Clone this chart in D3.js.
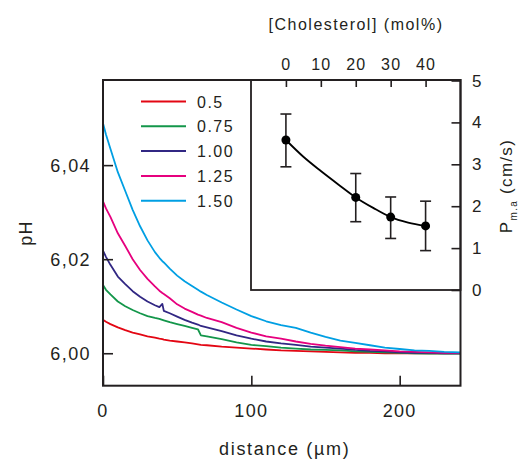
<!DOCTYPE html>
<html>
<head>
<meta charset="utf-8">
<script src="https://cdn.jsdelivr.net/npm/d3@7"></script>
<style>
  body { margin: 0; background: #fff; }
  svg { display: block; font-family: "Liberation Sans", Arial, sans-serif; }
  text { fill: #231f20; }
</style>
</head>
<body>
<svg id="chart" width="519" height="460"></svg>
<script>
// main panel: pH profiles vs distance
var distance = [0, 2, 5, 10, 15, 20, 25, 30, 35, 38, 40, 41, 45, 50, 55, 60, 64, 66, 70, 80, 90, 100,
  110, 120, 130, 140, 150, 160, 170, 180, 190, 200, 210, 220, 230, 241]

var ph050 = [6.0071, 6.0067, 6.0062, 6.0055, 6.0049, 6.0044, 6.0040, 6.0036, 6.0033, 6.0031, 6.0030, 6.0029,
  6.0027, 6.0025, 6.0023, 6.0021, 6.0019, 6.0018, 6.0017, 6.0014, 6.0012, 6.0010,
  6.0008, 6.0006, 6.0005, 6.0004, 6.0003, 6.0002, 6.0001, 6.0001, 6.0000, 6.0000, 6.0000, 6.0000, 6.0000, 6.0000]
var ph075 = [6.0145, 6.0135, 6.0125, 6.0110, 6.0100, 6.0092, 6.0085, 6.0079, 6.0075, 6.0073, 6.0071, 6.0070,
  6.0066, 6.0062, 6.0058, 6.0054, 6.0051, 6.0038, 6.0036, 6.0030, 6.0023, 6.0018,
  6.0015, 6.0012, 6.0010, 6.0008, 6.0007, 6.0006, 6.0004, 6.0003, 6.0002, 6.0001, 6.0000, 5.9999, 5.9999, 5.9999]
var ph100 = [6.0218, 6.0205, 6.0188, 6.0163, 6.0147, 6.0132, 6.0120, 6.0110, 6.0102, 6.0098, 6.0105, 6.0090,
  6.0085, 6.0078, 6.0071, 6.0065, 6.0061, 6.0058, 6.0055, 6.0047, 6.0038, 6.0031,
  6.0025, 6.0021, 6.0018, 6.0014, 6.0012, 6.0010, 6.0007, 6.0005, 6.0004, 6.0002, 6.0001, 6.0001, 6.0000, 6.0000]
var ph125 = [6.0323, 6.0308, 6.0290, 6.0255, 6.0228, 6.0200, 6.0177, 6.0158, 6.0142, 6.0133, 6.0128, 6.0126,
  6.0117, 6.0104, 6.0095, 6.0088, 6.0082, 6.0080, 6.0075, 6.0066, 6.0054, 6.0044,
  6.0036, 6.0031, 6.0025, 6.0020, 6.0016, 6.0013, 6.0010, 6.0008, 6.0006, 6.0004, 6.0003, 6.0002, 6.0001, 6.0001]
var ph150 = [6.0489, 6.0465, 6.0435, 6.0385, 6.0345, 6.0305, 6.0270, 6.0240, 6.0215, 6.0203, 6.0196, 6.0193,
  6.0180, 6.0165, 6.0153, 6.0143, 6.0135, 6.0131, 6.0124, 6.0108, 6.0093, 6.0079,
  6.0068, 6.0060, 6.0054, 6.0044, 6.0035, 6.0027, 6.0022, 6.0017, 6.0012, 6.0009, 6.0006, 6.0005, 6.0003, 6.0002]

var seriesNames = ['0.5', '0.75', '1.00', '1.25', '1.50']
var seriesColors = ['#e30613', '#13964a', '#312783', '#e6007e', '#009fe3']
var seriesValues = [ph050, ph075, ph100, ph125, ph150]

var distTicks = [0, 100, 200]
var phTicks = [6.00, 6.02, 6.04]

// inset: permeability vs cholesterol
var chol = [0, 20, 30, 40]
var perm = [3.58, 2.21, 1.74, 1.53]
var permLow = [2.94, 1.63, 1.23, 0.94]
var permHigh = [4.20, 2.78, 2.22, 2.12]
var cholFit = [0, 5, 10, 15, 20, 25, 30, 35, 40]
var permFit = [3.58, 3.18, 2.84, 2.52, 2.21, 1.96, 1.74, 1.61, 1.53]
var cholTicks = [0, 10, 20, 30, 40]
var permTicks = [0, 1, 2, 3, 4, 5]

var ink = '#231f20'
var svg = d3.select('#chart')

// plot box (not "top"/"left": those clash with window globals)
var mL = 103, mR = 460.5, mT = 80, mB = 385.7

var x = d3.scaleLinear().domain([0, 241]).range([mL, mR])
var y = d3.scaleLinear().domain([5.9931, 6.0581]).range([mB, mT])

var comma = d3.formatLocale({decimal: ',', thousands: '.', grouping: [3], currency: ['', '']})

// curves
var line = d3.line()
  .x(function (d) { return x(d[0]) })
  .y(function (d) { return y(d[1]) })

seriesValues.forEach(function (vals, i) {
  svg.append('path')
    .datum(distance.map(function (d, j) { return [d, vals[j]] }))
    .attr('d', line)
    .style('fill', 'none')
    .style('stroke', seriesColors[i])
    .style('stroke-width', 1.8)
    .style('stroke-linejoin', 'round')
})

// main axes (ticks inward)
svg.append('g')
  .attr('transform', 'translate(0,' + mB + ')')
  .call(d3.axisTop(x).tickValues(distTicks).tickSize(10).tickFormat(''))
  .call(function (g) { g.select('.domain').remove() })
  .selectAll('line').style('stroke', ink).style('stroke-width', 1.6)

svg.append('g')
  .attr('transform', 'translate(' + mL + ',0)')
  .call(d3.axisRight(y).tickValues(phTicks).tickSize(10).tickFormat(''))
  .call(function (g) { g.select('.domain').remove() })
  .selectAll('line').style('stroke', ink).style('stroke-width', 1.6)

svg.selectAll('.xlab')
  .data(distTicks)
  .enter().append('text')
  .attr('x', function (d) { return x(d) })
  .attr('y', 417)
  .attr('text-anchor', 'middle')
  .style('font-size', '18px')
  .style('letter-spacing', '1.3px')
  .text(function (d) { return d })

svg.selectAll('.ylab')
  .data(phTicks)
  .enter().append('text')
  .attr('x', 91)
  .attr('y', function (d) { return y(d) + 6.5 })
  .attr('text-anchor', 'end')
  .style('font-size', '18px')
  .style('letter-spacing', '1.4px')
  .text(function (d) { return comma.format('.2f')(d) })

svg.append('text')
  .attr('x', (mL + mR) / 2 + 3)
  .attr('y', 455)
  .attr('text-anchor', 'middle')
  .style('font-size', '18px')
  .style('letter-spacing', '1.7px')
  .text('distance (µm)')

svg.append('text')
  .attr('transform', 'translate(32,233)rotate(-90)')
  .attr('text-anchor', 'middle')
  .style('font-size', '18px')
  .style('letter-spacing', '1.3px')
  .text('pH')

// legend
seriesNames.forEach(function (name, i) {
  var ly = 101.5 + i * 24.8
  svg.append('line')
    .attr('x1', 141).attr('x2', 186)
    .attr('y1', ly).attr('y2', ly)
    .style('stroke', seriesColors[i])
    .style('stroke-width', 2)
  svg.append('text')
    .attr('x', 197)
    .attr('y', ly + 6)
    .style('font-size', '16px')
    .style('letter-spacing', '1.5px')
    .text(name)
})

// inset
var il = 251, ir = 460.5, it = 80, ib = 290
var ix = d3.scaleLinear().domain([-10, 50]).range([il, ir])
var iy = d3.scaleLinear().domain([0, 5]).range([ib, it + 0.5])

svg.append('rect')
  .attr('x', il).attr('y', it)
  .attr('width', ir - il).attr('height', ib - it)
  .style('fill', '#fff')
  .style('stroke', ink)
  .style('stroke-width', 1.8)

svg.append('g')
  .attr('transform', 'translate(0,' + it + ')')
  .call(d3.axisBottom(ix).tickValues(cholTicks).tickSize(7).tickFormat(''))
  .call(function (g) { g.select('.domain').remove() })
  .selectAll('line').style('stroke', ink).style('stroke-width', 1.6)

svg.append('g')
  .attr('transform', 'translate(' + ir + ',0)')
  .call(d3.axisLeft(iy).tickValues(permTicks).tickSize(9).tickFormat(''))
  .call(function (g) { g.select('.domain').remove() })
  .selectAll('line').style('stroke', ink).style('stroke-width', 1.6)

svg.selectAll('.clab')
  .data(cholTicks)
  .enter().append('text')
  .attr('x', function (d) { return ix(d) + 0.5 })
  .attr('y', 70)
  .attr('text-anchor', 'middle')
  .style('font-size', '16px')
  .style('letter-spacing', '1.2px')
  .text(function (d) { return d })

svg.append('text')
  .attr('x', 356)
  .attr('y', 30)
  .attr('text-anchor', 'middle')
  .style('font-size', '16px')
  .style('letter-spacing', '1.5px')
  .text('[Cholesterol] (mol%)')

svg.selectAll('.plab')
  .data(permTicks)
  .enter().append('text')
  .attr('x', 472)
  .attr('y', function (d) { return iy(d) + 6 })
  .style('font-size', '17px')
  .text(function (d) { return d })

var ptitle = svg.append('text')
  .attr('transform', 'translate(512,186)rotate(-90)')
  .attr('text-anchor', 'middle')
  .style('font-size', '17px')
  .style('letter-spacing', '1.3px')
ptitle.append('tspan').text('P')
ptitle.append('tspan').attr('dy', 5).style('font-size', '10px').text('m.a')
ptitle.append('tspan').attr('dy', -5).text(' (cm/s)')

svg.append('path')
  .datum(cholFit.map(function (c, i) { return [c, permFit[i]] }))
  .attr('d', d3.line()
    .x(function (d) { return ix(d[0]) })
    .y(function (d) { return iy(d[1]) })
    .curve(d3.curveMonotoneX))
  .style('fill', 'none')
  .style('stroke', '#000')
  .style('stroke-width', 1.8)

var pts = svg.append('g').selectAll('g')
  .data(chol.map(function (c, i) { return {c: c, v: perm[i], lo: permLow[i], hi: permHigh[i]} }))
  .enter().append('g')

pts.append('line')
  .attr('x1', function (d) { return ix(d.c) }).attr('x2', function (d) { return ix(d.c) })
  .attr('y1', function (d) { return iy(d.lo) }).attr('y2', function (d) { return iy(d.hi) })
  .style('stroke', ink).style('stroke-width', 1.6)
;['lo', 'hi'].forEach(function (k) {
  pts.append('line')
    .attr('x1', function (d) { return ix(d.c) - 5.5 }).attr('x2', function (d) { return ix(d.c) + 5.5 })
    .attr('y1', function (d) { return iy(d[k]) }).attr('y2', function (d) { return iy(d[k]) })
    .style('stroke', ink).style('stroke-width', 1.6)
})
pts.append('circle')
  .attr('cx', function (d) { return ix(d.c) })
  .attr('cy', function (d) { return iy(d.v) })
  .attr('r', 4.5)
  .style('fill', '#000')

// main frame on top
svg.append('rect')
  .attr('x', mL).attr('y', mT)
  .attr('width', mR - mL).attr('height', mB - mT)
  .style('fill', 'none')
  .style('stroke', ink)
  .style('stroke-width', 2)
</script>
</body>
</html>
